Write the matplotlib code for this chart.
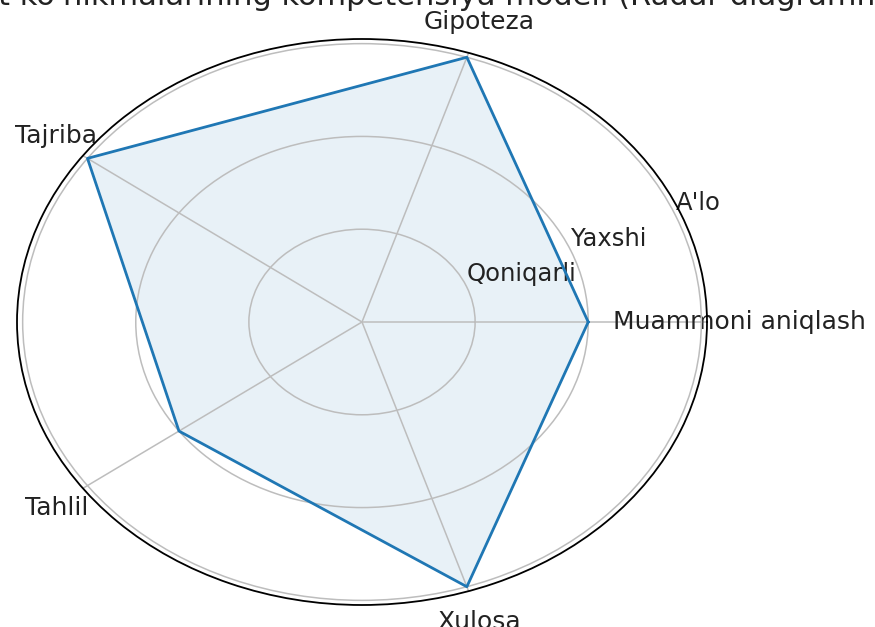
import numpy as np
import matplotlib.pyplot as plt

# competency levels per research skill (1 = Qoniqarli, 2 = Yaxshi, 3 = A'lo)
categories = ["Muammoni aniqlash", "Gipoteza", "Tajriba", "Tahlil", "Xulosa"]
scores = [2, 3, 3, 2, 3]
level_values = [1, 2, 3]
level_labels = ["Qoniqarli", "Yaxshi", "A'lo"]
title = "Tadqiqot ko'nikmalarining kompetensiya modeli (Radar diagramma)"

n = len(categories)
angles = np.linspace(0, 2 * np.pi, n, endpoint=False).tolist()
vals = scores + scores[:1]
ang = angles + angles[:1]

fig = plt.figure(figsize=(8.75, 6.27), dpi=100)
ax = fig.add_axes([17 / 875, 22 / 627, 690 / 875, 566 / 627], projection="polar")
ax.set_aspect("auto")

ax.plot(ang, vals, color="#1f77b4", lw=2)
ax.fill(ang, vals, color="#1f77b4", alpha=0.1)

ax.set_xticks(angles)
ax.set_xticklabels(categories, fontsize=18, color="#222222")
ax.tick_params(axis="x", pad=13)
ax.set_yticks(level_values)
ax.set_yticklabels(level_labels, fontsize=17.5, color="#222222")
ax.set_ylim(0, 3.05)
ax.grid(True, color="#bdbdbd", lw=1.1)
ax.spines["polar"].set_linewidth(1.3)

# title is wider than the canvas, only its middle is visible
fig.text(-119 / 875, 1 - 5 / 627, title, fontsize=22, ha="left", va="baseline",
         color="#222222")

fig.savefig("out.png", dpi=100)
